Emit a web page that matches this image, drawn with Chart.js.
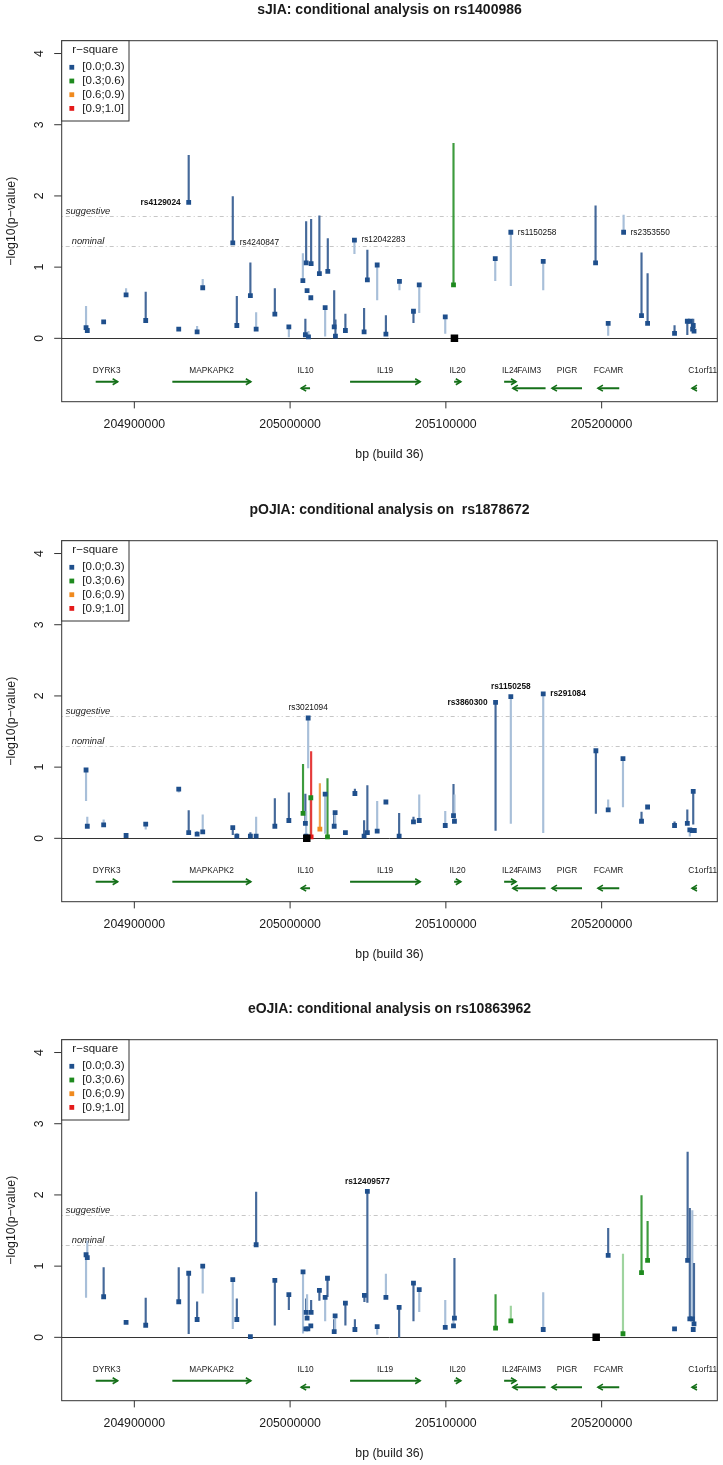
<!DOCTYPE html>
<html><head><meta charset="utf-8">
<script src="https://cdn.jsdelivr.net/npm/chart.js"></script>
<style>
html,body{margin:0;padding:0;background:#fff;}
body{width:723px;height:1465px;position:relative;overflow:hidden;}
canvas{position:absolute;left:0;background:#fff;}
</style></head><body>
<canvas id="c1" width="723" height="500" style="top:0px"></canvas>
<canvas id="c2" width="723" height="500" style="top:500px"></canvas>
<canvas id="c3" width="723" height="466" style="top:999px"></canvas>
<script>
// ---------- shared axes / annotation data ----------
const xTicks = [204900000, 205000000, 205100000, 205200000];
const yTicks = [0, 1, 2, 3, 4];
const thresholdNames = ['suggestive', 'nominal'];
const thresholdValues = [1.72, 1.30];
const r2Labels = ['[0.0;0.3)', '[0.3;0.6)', '[0.6;0.9)', '[0.9;1.0]'];

const geneNames  = ['DYRK3','MAPKAPK2','IL10','IL19','IL20','IL24','FAIM3','PIGR','FCAMR','C1orf116'];
const geneStart  = [204875200,204924400,205007100,205038500,205105300,205137400,205143000,205168100,205197600,205258000];
const geneEnd    = [204889300,204974800,205012800,205083500,205109600,205145000,205164000,205187400,205211300,205261200];
const geneStrand = [1,1,-1,1,1,1,-1,-1,-1,-1];
const geneLabelAt= [204882250,204949600,205009950,205061000,205107450,205141200,205153500,205177750,205204450,205266300];

// ---------- sJIA ----------
const sjiaTitle = 'sJIA: conditional analysis on rs1400986';
const sjiaIndexPos = 205105500;
const sjiaPos = [204869000,204869800,204880300,204894700,204907300,204928500,204940300,204943900,204934900,204963200,
  204965800,204974500,204978200,204990200,204999200,205008200,205009800,205010300,205010900,205011800,
  205013300,205013500,205018800,205022500,205024200,205028300,205029100,205035500,205041300,205047500,
  205049600,205055900,205061500,205070200,205079200,205082900,205099600,205104900,205131700,205141700,
  205162500,205196100,205204200,205214100,205225600,205229500,205246800,205255000,205256900,205258800,
  205258400,205259300];
const sjiaLogP = [0.15,0.11,0.23,0.61,0.25,0.13,0.09,0.71,1.91,1.34,
  0.18,0.60,0.13,0.34,0.16,0.81,0.05,1.06,0.67,0.02,
  0.57,1.05,0.91,0.43,0.94,0.16,0.03,0.11,1.38,0.09,
  0.82,1.03,0.06,0.80,0.38,0.75,0.30,0.75,1.12,1.49,
  1.08,1.06,0.21,1.49,0.32,0.21,0.07,0.24,0.24,0.18,
  0.13,0.10];
const sjiaOther = [0.45,0.11,0.23,0.70,0.65,0.13,0.17,0.83,2.57,1.99,
  0.59,1.06,0.36,0.70,0.02,1.19,0.27,1.64,0.67,0.10,
  0.57,1.67,1.72,0.03,1.40,0.67,0.26,0.34,1.19,0.42,
  1.24,0.54,0.32,0.68,0.22,0.36,0.07,2.74,0.81,0.74,
  0.68,1.86,0.04,1.73,1.20,0.91,0.18,0.05,0.24,0.27,
  0.13,0.10];
const sjiaR2 = [0,0,0,0,0,0,0,0,0,0, 0,0,0,0,0,0,0,0,0,0, 0,0,0,0,0,0,0,0,0,0, 0,0,0,0,0,0,0,1,0,0, 0,0,0,0,0,0,0,0,0,0, 0,0];
const sjiaTone = 'l d d l d d l l d d d d l d l l d d d l d d d l d d d d l d d l d l d l l d l l l d l l d d d d d d d d'.split(' ');
const sjiaLabelIdx  = [8, 9, 28, 39, 43];
const sjiaLabelText = ['rs4129024','rs4240847','rs12042283','rs1150258','rs2353550'];
const sjiaLabelSide = ['left','right','right','right','right'];
const sjiaLabelBold = [1,0,0,0,0];

// ---------- pOJIA ----------
const pojiaTitle = 'pOJIA: conditional analysis on  rs1878672';
const pojiaIndexPos = 205010700;
const pojiaPos = [204869000,204869800,204880300,204894700,204907300,204928500,204934900,204940300,204943900,204963200,
  204965800,204974500,204978200,204990200,204999200,205008300,205009800,205010300,205011600,205013300,
  205013500,205019100,205024000,205022500,205028300,205028900,205035500,205041600,205047500,205049600,
  205055900,205061500,205070000,205079200,205082900,205099600,205104900,205105500,205131900,205141700,
  205162500,205196300,205204200,205213700,205225600,205229500,205246800,205255000,205258800,205256600,
  205258200,205259500];
const pojiaLogP = [0.96,0.17,0.19,0.04,0.20,0.69,0.08,0.06,0.09,0.15,
  0.03,0.03,0.03,0.17,0.25,0.35,0.21,0.03,1.69,0.57,
  0.02,0.13,0.02,0.62,0.17,0.36,0.08,0.63,0.03,0.08,
  0.10,0.51,0.03,0.23,0.25,0.18,0.32,0.24,1.91,1.99,
  2.03,1.23,0.40,1.12,0.24,0.44,0.18,0.21,0.66,0.12,
  0.11,0.11];
const pojiaOther = [0.53,0.30,0.26,0.07,0.13,0.65,0.39,0.10,0.33,0.05,
  0.07,0.08,0.30,0.56,0.64,1.04,0.62,0.38,0.99,0.02,
  1.22,0.77,0.84,0.07,0.38,0.20,0.08,0.69,0.25,0.74,
  0.52,0.51,0.35,0.30,0.61,0.38,0.76,0.61,0.11,0.21,
  0.08,0.35,0.54,0.44,0.37,0.44,0.23,0.40,0.20,0.03,
  0.11,0.11];
const pojiaR2 = [0,0,0,0,0,0,0,0,0,0, 0,0,0,0,0,1,0,0,0,1, 3,2,1,0,0,0,0,0,0,0, 0,0,0,0,0,0,0,0,0,0, 0,0,0,0,0,0,0,0,0,0, 0,0];
const pojiaTone = 'l l l l l l d l l d l d l d d d d l l d d d d l d l d d d d l d d d l l d l d l l d l l d d d d d l d d'.split(' ');
const pojiaLabelIdx  = [18, 38, 39, 40];
const pojiaLabelText = ['rs3021094','rs3860300','rs1150258','rs291084'];
const pojiaLabelSide = ['above','left','above','right'];
const pojiaLabelBold = [0,1,1,1];

// ---------- eOJIA ----------
const eojiaTitle = 'eOJIA: conditional analysis on rs10863962';
const eojiaIndexPos = 205196500;
const eojiaPos = [204869000,204869800,204880300,204894700,204907300,204928500,204934900,204940300,204943900,204963200,
  204965800,204974500,204978200,204990200,204999200,205008300,205010100,205010300,205010900,205011400,
  205013300,205013500,205018800,205022500,205024000,205028300,205028900,205035500,205041600,205047700,
  205049600,205055900,205061500,205070000,205079200,205082900,205099600,205105500,205104900,205131900,
  205141700,205162500,205204200,205213700,205225600,205229500,205246800,205255200,205256600,205258200,
  205259300,205258800];
const eojiaLogP = [1.16,1.12,0.57,0.21,0.17,0.50,0.90,0.25,1.00,0.81,
  0.25,0.01,1.30,0.80,0.60,0.92,0.12,0.35,0.27,0.12,
  0.16,0.35,0.66,0.56,0.83,0.08,0.30,0.48,0.11,0.59,
  2.05,0.15,0.56,0.42,0.76,0.67,0.14,0.27,0.16,0.13,
  0.23,0.11,1.15,0.05,0.91,1.08,0.12,1.08,0.26,0.26,
  0.19,0.11];
const eojiaOther = [0.56,1.35,0.98,0.21,0.55,0.98,0.05,0.50,0.62,0.12,
  0.54,0.01,2.04,0.17,0.39,0.06,0.12,0.54,0.60,0.12,
  0.16,0.52,0.52,0.23,0.57,0.25,0.08,0.17,0.25,0.50,
  0.49,0.04,0.89,0.00,0.23,0.36,0.52,1.11,0.30,0.60,
  0.44,0.63,1.53,1.17,1.99,1.63,0.12,2.60,1.81,1.78,
  1.04,0.11];
const eojiaR2 = [0,0,0,0,0,0,0,0,0,0, 0,0,0,0,0,0,0,0,0,0, 0,0,0,0,0,0,0,0,0,0, 0,0,0,0,0,0,0,0,0,1, 1,0,0,1,1,1,0,0,0,0, 0,0];
const eojiaTone = 'l l d d d d d d l l d d d d d l d d l d d d d l d d l d d d d l l d d l l d l d l l d l d d d d d l d d'.split(' ');
const eojiaLabelIdx  = [30];
const eojiaLabelText = ['rs12409577'];
const eojiaLabelSide = ['above'];
const eojiaLabelBold = [1];

// ---------- styling (not data) ----------
const X_MIN = 204853370, X_MAX = 205274250, Y_MIN = -0.89, Y_MAX = 4.18;
const GENE_ROW_FWD = -0.61, GENE_ROW_REV = -0.70, GENE_LABEL_Y = -0.46;
const FONT = '"Liberation Sans", Arial, Helvetica, sans-serif';
const r2Colors = ['#1f4f8c', '#1e8a1e', '#f08a1e', '#e41a1a'];
const toneColors = [
  {d:'#45699a', l:'#a8bfd9'},
  {d:'#3d9b3d', l:'#9fd49f'},
  {d:'#f2a24a', l:'#f7c88f'},
  {d:'#e53b3b', l:'#f2a3a3'}
];

const panels = [
  {canvas:'c1', title:sjiaTitle, indexPos:sjiaIndexPos, pos:sjiaPos, logp:sjiaLogP, other:sjiaOther, r2:sjiaR2, tone:sjiaTone,
   lIdx:sjiaLabelIdx, lText:sjiaLabelText, lSide:sjiaLabelSide, lBold:sjiaLabelBold},
  {canvas:'c2', title:pojiaTitle, indexPos:pojiaIndexPos, pos:pojiaPos, logp:pojiaLogP, other:pojiaOther, r2:pojiaR2, tone:pojiaTone,
   lIdx:pojiaLabelIdx, lText:pojiaLabelText, lSide:pojiaLabelSide, lBold:pojiaLabelBold},
  {canvas:'c3', title:eojiaTitle, indexPos:eojiaIndexPos, pos:eojiaPos, logp:eojiaLogP, other:eojiaOther, r2:eojiaR2, tone:eojiaTone,
   lIdx:eojiaLabelIdx, lText:eojiaLabelText, lSide:eojiaLabelSide, lBold:eojiaLabelBold}
];

function decorPlugin(P){
  return {
    id: 'decor',
    beforeDatasetsDraw(chart){
      const {ctx, chartArea:a, scales:{x, y}} = chart;
      ctx.save();
      ctx.beginPath(); ctx.rect(a.left, a.top, a.right - a.left, a.bottom - a.top); ctx.clip();
      // threshold lines
      ctx.strokeStyle = '#c6c6c6'; ctx.lineWidth = 1; ctx.setLineDash([1, 3, 4, 3]);
      thresholdValues.forEach(v => {
        const py = Math.round(y.getPixelForValue(v)) + 0.5;
        ctx.beginPath(); ctx.moveTo(a.left, py); ctx.lineTo(a.right, py); ctx.stroke();
      });
      ctx.setLineDash([]);
      ctx.fillStyle = '#222'; ctx.font = 'italic 9.3px ' + FONT;
      ctx.textAlign = 'center'; ctx.textBaseline = 'middle';
      thresholdNames.forEach((n, i) => ctx.fillText(n, a.left + 26.3, y.getPixelForValue(thresholdValues[i]) - 4));
      // zero line
      const y0 = Math.round(y.getPixelForValue(0)) + 0.5;
      ctx.strokeStyle = '#333'; ctx.lineWidth = 1;
      ctx.beginPath(); ctx.moveTo(a.left, y0); ctx.lineTo(a.right, y0); ctx.stroke();
      // genes
      ctx.strokeStyle = '#16701a'; ctx.lineCap = 'butt';
      geneNames.forEach((g, i) => {
        const x1 = x.getPixelForValue(geneStart[i]), x2 = x.getPixelForValue(geneEnd[i]);
        const py = y.getPixelForValue(geneStrand[i] > 0 ? GENE_ROW_FWD : GENE_ROW_REV);
        const dir = geneStrand[i] > 0 ? 1 : -1;
        const tip = dir > 0 ? x2 : x1;
        ctx.lineWidth = 2;
        ctx.beginPath(); ctx.moveTo(x1, py); ctx.lineTo(x2, py); ctx.stroke();
        ctx.lineWidth = 1.6;
        ctx.beginPath(); ctx.moveTo(tip - dir * 5, py - 3); ctx.lineTo(tip, py); ctx.lineTo(tip - dir * 5, py + 3); ctx.stroke();
        ctx.fillStyle = '#222'; ctx.font = '8.3px ' + FONT;
        ctx.fillText(g, x.getPixelForValue(geneLabelAt[i]), y.getPixelForValue(GENE_LABEL_Y));
      });
      ctx.restore();
    },
    afterDatasetsDraw(chart){
      const {ctx, scales:{x, y}} = chart;
      ctx.save();
      ctx.fillStyle = '#111'; ctx.textBaseline = 'middle';
      P.lIdx.forEach((k, j) => {
        const px = x.getPixelForValue(P.pos[k]), py = y.getPixelForValue(P.logp[k]);
        ctx.font = (P.lBold[j] ? 'bold ' : '') + '8.3px ' + FONT;
        const side = P.lSide[j];
        if (side === 'left') { ctx.textAlign = 'right'; ctx.fillText(P.lText[j], px - 8, py); }
        else if (side === 'right') { ctx.textAlign = 'left'; ctx.fillText(P.lText[j], px + 7, py); }
        else { ctx.textAlign = 'center'; ctx.fillText(P.lText[j], px, py - 10); }
      });
      ctx.restore();
    },
    afterDraw(chart){
      const {ctx, chartArea:a, scales:{x, y}} = chart;
      ctx.save();
      ctx.strokeStyle = '#333'; ctx.lineWidth = 1;
      ctx.strokeRect(a.left, a.top, a.right - a.left, a.bottom - a.top);
      ctx.fillStyle = '#1a1a1a';
      ctx.font = '12.3px ' + FONT; ctx.textAlign = 'center'; ctx.textBaseline = 'middle';
      // y axis
      yTicks.forEach(v => {
        const py = y.getPixelForValue(v);
        ctx.beginPath(); ctx.moveTo(a.left - 7.5, py); ctx.lineTo(a.left, py); ctx.stroke();
        ctx.save(); ctx.translate(a.left - 22.4, py); ctx.rotate(-Math.PI / 2); ctx.fillText(String(v), 0, 0); ctx.restore();
      });
      ctx.save(); ctx.translate(a.left - 50.2, (a.top + a.bottom) / 2); ctx.rotate(-Math.PI / 2);
      ctx.fillText('\u2212log10(p\u2212value)', 0, 0); ctx.restore();
      // x axis
      xTicks.forEach(v => {
        const px = x.getPixelForValue(v);
        ctx.beginPath(); ctx.moveTo(px, a.bottom); ctx.lineTo(px, a.bottom + 6.7); ctx.stroke();
        ctx.fillText(String(v), px, a.bottom + 22.6);
      });
      ctx.fillText('bp (build 36)', (a.left + a.right) / 2, a.bottom + 53.3);
      // title
      ctx.font = 'bold 14px ' + FONT;
      ctx.fillText(P.title, (a.left + a.right) / 2, 10.5);
      // legend
      const lw = 67.3, lh = 80.3;
      ctx.fillStyle = '#fff'; ctx.fillRect(a.left, a.top, lw, lh);
      ctx.strokeRect(a.left, a.top, lw, lh);
      ctx.fillStyle = '#1a1a1a'; ctx.font = '11.5px ' + FONT; ctx.textAlign = 'center';
      ctx.fillText('r\u2212square', a.left + 33.5, a.top + 9.6);
      ctx.textAlign = 'left';
      r2Labels.forEach((t, i) => {
        const cy = a.top + 26.6 + i * 13.7;
        ctx.fillStyle = r2Colors[i]; ctx.fillRect(a.left + 7.7, cy - 2.4, 4.8, 4.8);
        ctx.fillStyle = '#1a1a1a'; ctx.fillText(t, a.left + 20.6, cy);
      });
      ctx.restore();
    }
  };
}

function buildDatasets(P){
  const ds = [];
  ds.push({
    type: 'bar', order: 3, grouped: false,
    data: P.pos.map((p, i) => ({x: p, y: [Math.min(P.logp[i], P.other[i]), Math.max(P.logp[i], P.other[i])]})),
    backgroundColor: P.pos.map((p, i) => toneColors[P.r2[i]][P.tone[i]]),
    borderWidth: 0, barThickness: 1.5
  });
  r2Colors.forEach((c, k) => {
    ds.push({
      type: 'scatter', order: 2, showLine: false,
      data: P.pos.map((p, i) => P.r2[i] === k ? {x: p, y: P.logp[i]} : null).filter(Boolean),
      pointStyle: 'rect', pointRadius: 3.4, backgroundColor: c, borderColor: c, borderWidth: 0
    });
  });
  ds.push({
    type: 'scatter', order: 1, showLine: false,
    data: [{x: P.indexPos, y: 0}],
    pointStyle: 'rect', pointRadius: 5.3, backgroundColor: '#000', borderColor: '#000', borderWidth: 0
  });
  return ds;
}

panels.forEach(P => {
  const cv = document.getElementById(P.canvas);
  new Chart(cv, {
    type: 'scatter',
    data: {datasets: buildDatasets(P)},
    options: {
      responsive: false, maintainAspectRatio: false, animation: false, devicePixelRatio: 1, events: [],
      layout: {padding: {left: 61.7, right: 723 - 717.3, top: 40.7, bottom: cv.height - 401.7}},
      scales: {
        x: {type: 'linear', min: X_MIN, max: X_MAX, display: false, offset: false},
        y: {type: 'linear', min: Y_MIN, max: Y_MAX, display: false}
      },
      plugins: {legend: {display: false}, tooltip: {enabled: false}}
    },
    plugins: [decorPlugin(P)]
  });
});
</script></body></html>
